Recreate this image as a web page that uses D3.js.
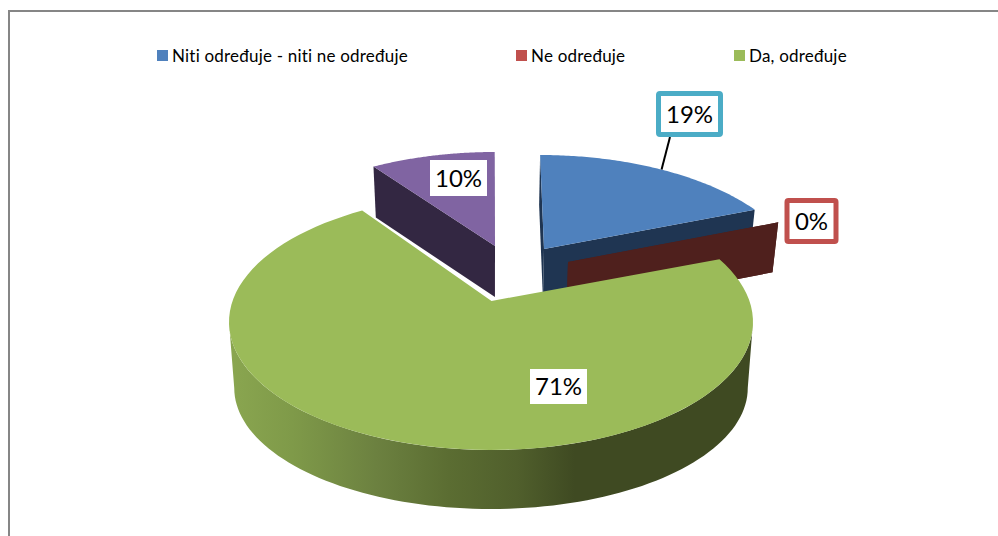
<!DOCTYPE html>
<html>
<head>
<meta charset="utf-8">
<script src="https://cdnjs.cloudflare.com/ajax/libs/d3/7.8.5/d3.min.js"></script>
<style>
html,body{margin:0;padding:0;background:#fff;overflow:hidden}
svg{display:block}
text{font-family:Lato,"Open Sans",sans-serif;fill:#000}
</style>
</head>
<body>
<svg id="chart" width="998" height="536"></svg>
<script>
// Data
const categories = ["Niti određuje - niti ne određuje", "Ne određuje", "Da, određuje", "Ostalo"];
const values = [19.3, 0, 71, 9.7];
const legendCategories = categories.slice(0, 3);

// Style
const topColors = ["#4f81bd", "#c0504d", "#9bbb59", "#8064a2"];
const wallColors = ["#1f3552", "#4f201d", "#9bbb59", "#332742"];
const labelBorders = ["#4bacc6", "#c0504d", null, null];

// Layout: ellipse centre of each exploded slice, and where its tip sits relative to that centre
const sliceCx = [540, 564, 491, 495];
const sliceCy = [283, 296, 322, 280];
const tipShift = [4, 4, 0.5, 0];
const tipLift = [34, 34, 21, 34];
const startTurn = [0, 0, 0, -1.8];
const wallDepth = [50, 50, 66, 51];
const labelX = [689.5, 811.5, 558.5, 458.5];
const labelY = [114, 221, 386.5, 178];
const labelW = [62, 49, 57, 57];
const labelH = [41, 41, 35, 36];
const legendX = [157, 516, 734];

const rx = 262, ry = 128, baseX = 491, tilt = 0.1, shrink = 0.98;

const svg = d3.select("#chart");
const defs = svg.append("defs");
const grad = defs.append("linearGradient").attr("id", "greenWall")
  .attr("gradientUnits", "userSpaceOnUse").attr("x1", 229).attr("x2", 753).attr("y1", 0).attr("y2", 0);
[[0, "#8aa650"], [0.12, "#7f9a49"], [0.28, "#6c8140"], [0.42, "#5b6d32"], [0.55, "#505f2c"], [0.66, "#3f4a22"], [1, "#3f4a22"]]
  .forEach(s => grad.append("stop").attr("offset", s[0]).attr("stop-color", s[1]));

// Chart frame (open on the right and at the bottom)
const framePath = d3.path();
framePath.moveTo(9, 536); framePath.lineTo(9, 11); framePath.lineTo(998, 11);
svg.append("path").attr("d", framePath.toString()).attr("fill", "none")
  .attr("stroke", "#868686").attr("stroke-width", 2);

const arcs = d3.pie().sort(null).value(d => d)(values);
const line = d3.line();

function tip(i) { return [sliceCx[i] + tipShift[i], sliceCy[i] - tipLift[i]]; }
function startOf(i) { return arcs[i].startAngle + startTurn[i] * Math.PI / 180; }
function rim(i, a) {
  const [px, py] = tip(i);
  const dx = rx * Math.sin(a) - tilt * (px - baseX), dy = -ry * Math.cos(a);
  const ox = (px - sliceCx[i]) / rx, oy = (py - sliceCy[i]) / ry;
  const ux = dx / rx, uy = dy / ry;
  const A = ux * ux + uy * uy, B = 2 * (ox * ux + oy * uy), C = ox * ox + oy * oy - 1;
  const t = (-B + Math.sqrt(B * B - 4 * A * C)) / (2 * A);
  return [px + t * dx, py + t * dy];
}
function sink(p, depth) { return [baseX + (p[0] - baseX) * shrink, p[1] + depth]; }
function rimPoints(i) {
  const a0 = startOf(i), a1 = arcs[i].endAngle, n = 90, out = [];
  for (let k = 0; k <= n; k++) out.push(rim(i, a0 + (a1 - a0) * k / n));
  return out;
}
function radialWall(i, angle) {
  const t = tip(i), r = rim(i, angle), d = wallDepth[i];
  return line([t, r, sink(r, d), sink(t, d)]) + "Z";
}
function drawFlatSlice(i) {
  svg.append("path").attr("d", radialWall(i, startOf(i))).attr("fill", wallColors[i]);
  svg.append("path").attr("d", radialWall(i, arcs[i].endAngle)).attr("fill", wallColors[i]);
  if (values[i] > 0) {
    svg.append("path").attr("d", line([tip(i), ...rimPoints(i)]) + "Z").attr("fill", topColors[i]);
  }
}

// Back slices first, the big front slice last
drawFlatSlice(3);
drawFlatSlice(0);
drawFlatSlice(1);

// Front wall of the big slice
const gi = 2;
const cx = sliceCx[gi], cy = sliceCy[gi], d = wallDepth[gi];
const lowerTop = d3.range(0, 181, 2).map(t => {
  const r = t * Math.PI / 180;
  return [cx + rx * Math.cos(r), cy + ry * Math.sin(r)];
});
const lowerBottom = d3.range(180, -1, -2).map(t => {
  const r = t * Math.PI / 180;
  return [cx + rx * shrink * Math.cos(r), cy + d + (ry - 7) * Math.sin(r)];
});
svg.append("path").attr("d", line([...lowerTop, ...lowerBottom]) + "Z").attr("fill", "url(#greenWall)");
svg.append("path").attr("d", line([tip(gi), ...rimPoints(gi)]) + "Z").attr("fill", topColors[gi]);

// Leader line from the 19% label to its slice
const leaderEnd = rim(0, arcs[0].startAngle + (arcs[0].endAngle - arcs[0].startAngle) * 0.53);
svg.append("line").attr("x1", 670).attr("y1", 137).attr("x2", leaderEnd[0]).attr("y2", leaderEnd[1])
  .attr("stroke", "#000").attr("stroke-width", 2);

// Data labels
const fmt = v => d3.format(".0f")(v) + "%";
const labels = svg.selectAll("g.label").data(values).join("g").attr("class", "label")
  .attr("transform", (v, i) => `translate(${labelX[i]},${labelY[i]})`);
labels.append("rect")
  .attr("x", (v, i) => -labelW[i] / 2).attr("y", (v, i) => -labelH[i] / 2)
  .attr("width", (v, i) => labelW[i]).attr("height", (v, i) => labelH[i])
  .attr("rx", (v, i) => labelBorders[i] ? 1.5 : 0)
  .attr("fill", "#fff")
  .attr("stroke", (v, i) => labelBorders[i] || "none")
  .attr("stroke-width", (v, i) => labelBorders[i] ? 5 : 0);
labels.append("text").attr("text-anchor", "middle").attr("dy", "0.36em")
  .attr("font-size", 24).text(v => fmt(v));

// Legend
const legend = svg.selectAll("g.legend").data(legendCategories).join("g").attr("class", "legend")
  .attr("transform", (c, i) => `translate(${legendX[i]},50)`);
legend.append("rect").attr("width", 11).attr("height", 11).attr("fill", (c, i) => topColors[i]);
legend.append("text").attr("x", 15).attr("y", 12).attr("font-size", 17).attr("letter-spacing", 0.2).text(c => c);
</script>
</body>
</html>
